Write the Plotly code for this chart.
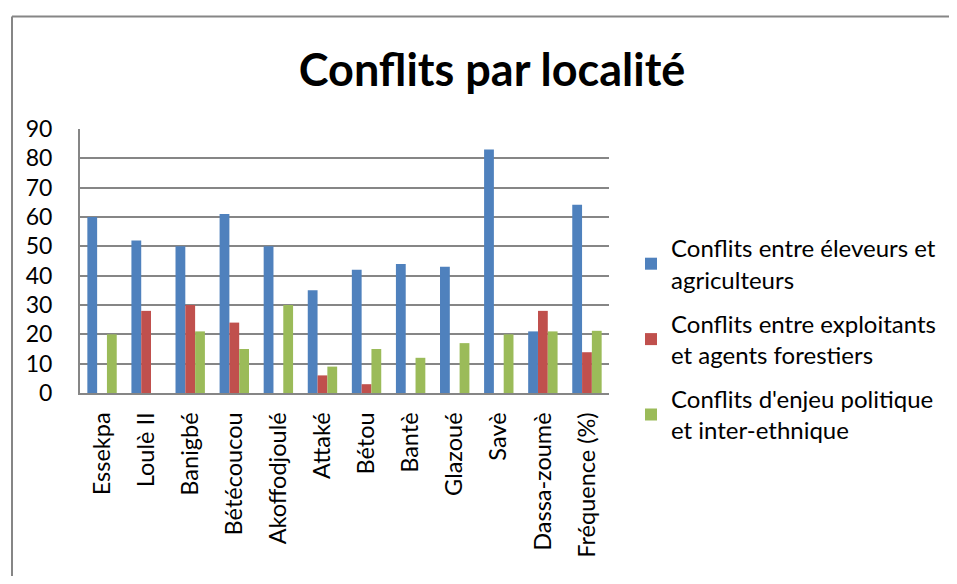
import plotly.graph_objects as go

localites = ['Essekpa', 'Loulè II', 'Banigbé', 'Bétécoucou', 'Akoffodjoulé', 'Attaké',
             'Bétou', 'Bantè', 'Glazoué', 'Savè', 'Dassa-zoumè', 'Fréquence (%)']
eleveurs_agriculteurs = [60, 52, 50, 61, 50, 35, 42, 44, 43, 83, 21, 64.2]
exploitants_forestiers = [0, 28, 30, 24, 0, 6, 3, 0, 0, 0, 28, 13.9]
politique_ethnique = [20, 0, 21, 15, 30, 9, 15, 12, 17, 20, 21, 21.2]

font_name = 'Lato, Open Sans, sans-serif'
W, H = 941, 568

fig = go.Figure()
fig.add_trace(go.Bar(x=localites, y=eleveurs_agriculteurs, name='Conflits entre éleveurs et<br>agriculteurs',
                     legendgroup='a', marker={'color': '#4F81BD', 'line': {'width': 0}}))
fig.add_trace(go.Bar(x=localites, y=exploitants_forestiers, name='Conflits entre exploitants<br>et agents forestiers',
                     legendgroup='b', marker={'color': '#C0504D', 'line': {'width': 0}}))
fig.add_trace(go.Bar(x=localites, y=politique_ethnique, name="Conflits d'enjeu politique<br>et inter-ethnique",
                     legendgroup='c', marker={'color': '#9BBB59', 'line': {'width': 0}}))

# cadre du graphique (bords gauche et haut seulement visibles)
cadre_x = (4 - 72) / 529
cadre_y = (385 - 8) / 264.3

fig.update_layout(
    width=W, height=H,
    margin=dict(l=72, r=340, t=121, b=183),
    paper_bgcolor='white', plot_bgcolor='white',
    font=dict(family=font_name, size=24, color='black'),
    title=dict(text='<b>Conflits par localité</b>', x=484 / W, xanchor='center',
               y=1 - 62 / H, yanchor='middle', font=dict(size=45, family=font_name)),
    barmode='group', bargap=0.333, bargroupgap=0,
    showlegend=True,
    legend=dict(xref='container', yref='container', x=623 / W, y=1 - 218 / H,
                xanchor='left', yanchor='top', font=dict(size=24),
                tracegroupgap=10, itemwidth=30, bgcolor='rgba(0,0,0,0)'),
    xaxis=dict(tickangle=-90, showline=True, linecolor='#868686', linewidth=2,
               ticks='outside', ticklen=8, tickcolor='rgba(0,0,0,0)',
               showgrid=False, tickfont=dict(size=23.5)),
    yaxis=dict(range=[0, 90], dtick=10, showgrid=True, gridcolor='#868686', gridwidth=1.5,
               showline=True, linecolor='#868686', linewidth=2, ticklabelstandoff=21,
               zeroline=False, tickfont=dict(size=23)),
    shapes=[dict(type='line', xref='paper', yref='paper', x0=cadre_x, x1=cadre_x,
                 y0=-2, y1=cadre_y, line=dict(color='#868686', width=2)),
            dict(type='line', xref='paper', yref='paper', x0=cadre_x, x1=(W - 72) / 529,
                 y0=cadre_y, y1=cadre_y, line=dict(color='#868686', width=2))],
)

fig.write_html('out.html')
